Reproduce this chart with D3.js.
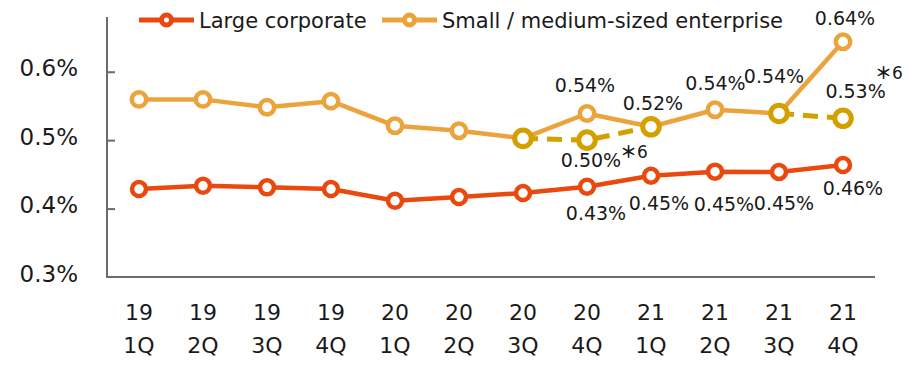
<!DOCTYPE html>
<html>
<head>
<meta charset="utf-8">
<script src="https://cdn.jsdelivr.net/npm/d3@7"></script>
<style>
  html, body { margin: 0; padding: 0; background: #fff; }
  svg { display: block; font-family: "DejaVu Sans", "Noto Sans CJK JP", sans-serif; }
</style>
</head>
<body>
<svg id="chart" width="908" height="365"></svg>
<script>
// Quarterly rates (%)
const years    = ["19","19","19","19","20","20","20","20","21","21","21","21"];
const quarters = ["1Q","2Q","3Q","4Q","1Q","2Q","3Q","4Q","1Q","2Q","3Q","4Q"];
const largeCorporate = [0.4285, 0.4333, 0.431, 0.4285, 0.4114, 0.4168, 0.4227, 0.432, 0.448, 0.454, 0.4535, 0.4636];
const smeRate        = [0.5596, 0.5596, 0.548, 0.557, 0.521, 0.5137, 0.5026, 0.539, 0.5196, 0.5445, 0.539, 0.6439];
// Alternative basis (*6), shown dashed
const smeAdjusted    = [null, null, null, null, null, null, 0.5026, 0.500, 0.5196, null, 0.539, 0.532];
const yTicks = [0.3, 0.4, 0.5, 0.6];
const seriesNames = ["Large corporate", "Small / medium-sized enterprise"];

// Which points carry a value label, and where the label sits relative to the point
const largeLabelIdx = [7, 8, 9, 10, 11];
const largeLabelOff = [[9, 33], [8, 34], [9, 39], [5, 38], [10, 30]];
const smeLabelIdx   = [7, 8, 9, 10, 11];
const smeLabelOff   = [[-2, -21.5], [2, -16.7], [0.5, -19.3], [-5, -30], [2, -16.7]];
const adjLabelIdx   = [7, 11];
const adjLabelOff   = [[4, 26.7], [12.6, -20]];

const colLarge = "#E9490F";
const colSme   = "#EBA33B";
const colAdj   = "#D4A000";
const colText  = "#1a1a1a";
const colAxis  = "#6b6b6b";

const svg = d3.select("#chart");
const idx = d3.range(years.length);

const x = d3.scaleBand().domain(idx).range([107, 875]);
const cx = i => x(i) + x.bandwidth() / 2;
const y = d3.scaleLinear().domain([0.3, 0.68]).range([277, 17]);

const fmt = v => d3.format(".2f")(v) + "%";

// Axes
svg.append("line")
  .attr("x1", 107).attr("x2", 107).attr("y1", y(0.68)).attr("y2", y(0.3))
  .attr("stroke", colAxis).attr("stroke-width", 2);
svg.append("line")
  .attr("x1", 106).attr("x2", 875).attr("y1", y(0.3)).attr("y2", y(0.3))
  .attr("stroke", colAxis).attr("stroke-width", 2);

const yAxis = d3.axisRight(y).tickValues(yTicks.filter(t => t > 0.3)).tickSize(8).tickFormat("");
const gy = svg.append("g").attr("transform", "translate(107,0)").call(yAxis);
gy.select(".domain").remove();
gy.selectAll(".tick line").attr("stroke", colAxis).attr("stroke-width", 2);

svg.append("g").selectAll("text").data(yTicks).join("text")
  .attr("x", 78).attr("y", d => y(d) + 4.5)
  .attr("text-anchor", "end")
  .attr("font-size", 23)
  .attr("fill", colText)
  .text(d => d3.format(".1f")(d) + "%");

// Category labels (two rows)
const xl = svg.append("g");
xl.selectAll("text.yr").data(idx).join("text").attr("class", "yr")
  .attr("x", i => cx(i)).attr("y", 320)
  .attr("text-anchor", "middle").attr("font-size", 22).attr("fill", colText)
  .text(i => years[i]);
xl.selectAll("text.q").data(idx).join("text").attr("class", "q")
  .attr("x", i => cx(i)).attr("y", 353)
  .attr("text-anchor", "middle").attr("font-size", 22).attr("fill", colText)
  .text(i => quarters[i]);

const line = d3.line().defined(d => d != null).x((d, i) => cx(i)).y(d => y(d));

function drawMarkers(values, color, r, sw) {
  svg.append("g").selectAll("circle")
    .data(idx.filter(i => values[i] != null))
    .join("circle")
    .attr("cx", i => cx(i)).attr("cy", i => y(values[i]))
    .attr("r", r).attr("fill", "#fff")
    .attr("stroke", color).attr("stroke-width", sw);
}

// SME (solid)
svg.append("path").datum(smeRate).attr("d", line)
  .attr("fill", "none").attr("stroke", colSme).attr("stroke-width", 4.5)
  .attr("stroke-linejoin", "round");
drawMarkers(smeRate, colSme, 7.2, 4.5);

// SME alternative basis (dashed)
svg.append("path").datum(smeAdjusted).attr("d", line)
  .attr("fill", "none").attr("stroke", colAdj).attr("stroke-width", 5)
  .attr("stroke-dasharray", "15,9");
drawMarkers(smeAdjusted, colAdj, 8.3, 5);

// Large corporate
svg.append("path").datum(largeCorporate).attr("d", line)
  .attr("fill", "none").attr("stroke", colLarge).attr("stroke-width", 4.5)
  .attr("stroke-linejoin", "round");
drawMarkers(largeCorporate, colLarge, 7, 4.5);

// Value labels
function drawLabels(values, which, offs) {
  svg.append("g").selectAll("text").data(which).join("text")
    .attr("x", (i, k) => cx(i) + offs[k][0])
    .attr("y", (i, k) => y(values[i]) + offs[k][1])
    .attr("text-anchor", "middle").attr("font-size", 19).attr("fill", colText)
    .text(i => fmt(values[i]));
}
drawLabels(largeCorporate, largeLabelIdx, largeLabelOff);
drawLabels(smeRate, smeLabelIdx, smeLabelOff);
drawLabels(smeAdjusted, adjLabelIdx, adjLabelOff);

// Footnote markers beside the alternative-basis labels
const noteMarks = [[620, 158], [875, 79]];
const nm = svg.append("g").selectAll("text").data(noteMarks).join("text")
  .attr("x", d => d[0]).attr("y", d => d[1])
  .attr("font-size", 17).attr("fill", colText);
nm.append("tspan").attr("font-family", "'Noto Sans CJK JP', sans-serif").attr("font-weight", 700).text("\uFF0A");
nm.append("tspan").text("6");

// Legend
const legendItems = [
  { name: seriesNames[0], color: colLarge, x0: 139 },
  { name: seriesNames[1], color: colSme,   x0: 382 }
];
const lg = svg.append("g").selectAll("g").data(legendItems).join("g")
  .attr("transform", d => `translate(${d.x0},20)`);
lg.append("line").attr("x1", 0).attr("x2", 55).attr("y1", 0).attr("y2", 0)
  .attr("stroke", d => d.color).attr("stroke-width", 5);
lg.append("circle").attr("cx", 27.5).attr("cy", 0).attr("r", 5)
  .attr("fill", "#fff").attr("stroke", d => d.color).attr("stroke-width", 5);
lg.append("text").attr("x", 60).attr("y", 8.3)
  .attr("font-size", 21).attr("fill", colText)
  .text(d => d.name);
</script>
</body>
</html>
